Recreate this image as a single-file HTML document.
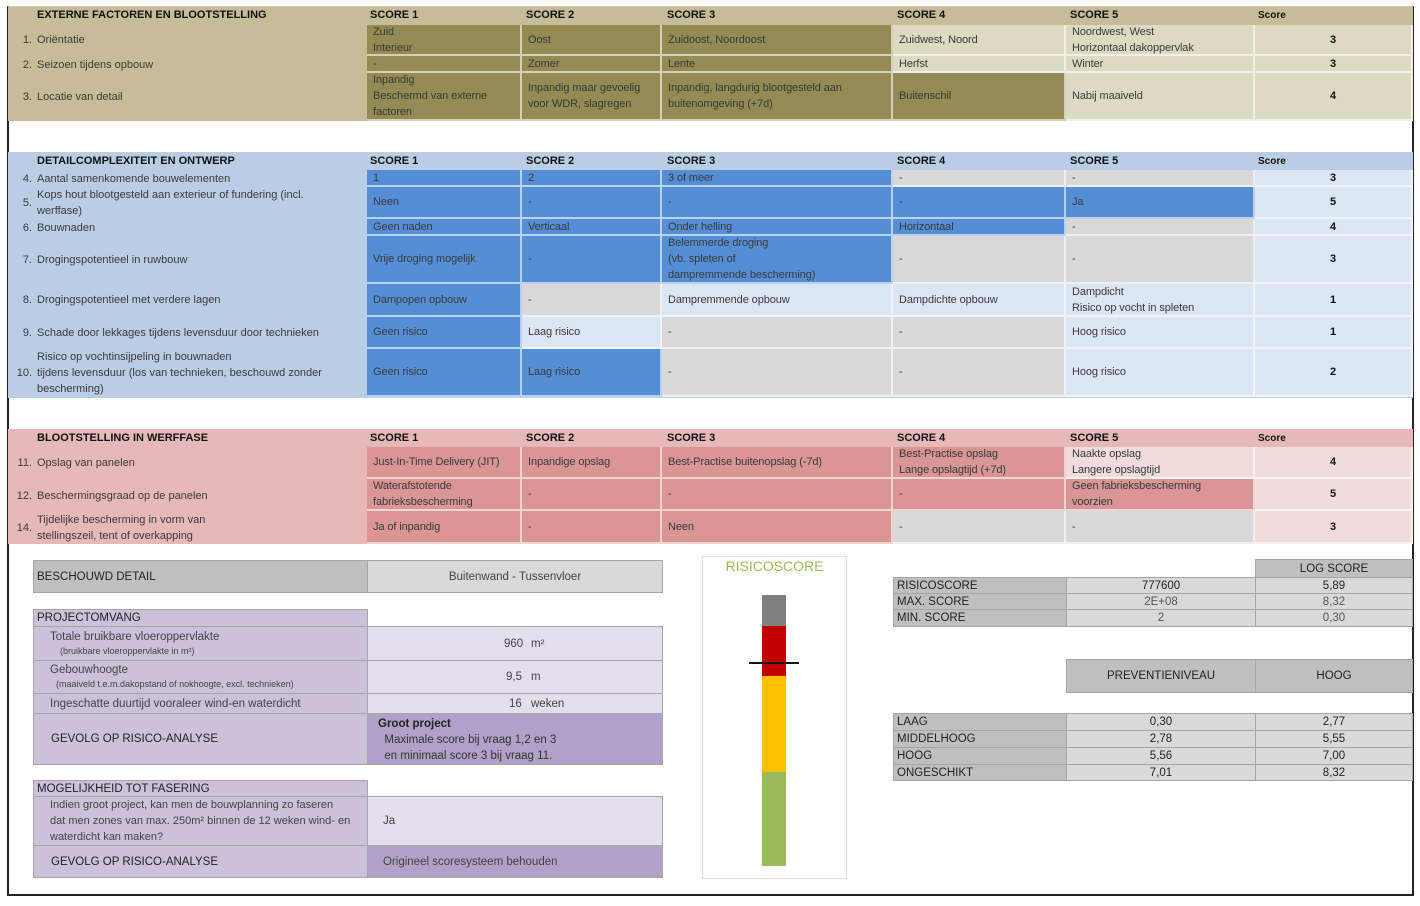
<!DOCTYPE html>
<html><head><meta charset="utf-8">
<style>
*{box-sizing:border-box;margin:0;padding:0}
body{width:1420px;height:906px;background:#fff;position:relative;overflow:hidden;font-family:"Liberation Sans",sans-serif;color:#3a3a3a;font-size:11px}
.frame{position:absolute;left:7px;top:6px;width:1407px;height:890px;border:2px solid #222;border-top:1px solid #ccc}
.b{position:absolute}
.c{position:absolute;display:flex;align-items:center;padding-left:6px;line-height:16px;border-right:2px solid rgba(255,255,255,.6);border-bottom:2px solid rgba(255,255,255,.6);font-size:11px;letter-spacing:-.1px}
.h{position:absolute;font-weight:bold;font-size:11px;color:#111}
.s{justify-content:center;padding-left:0;font-weight:bold;color:#111}
.lab{position:absolute;font-size:11px;line-height:16px;color:#3a3a3a}
.n{position:absolute;left:8px;width:24px;text-align:right}
.t{position:absolute;left:37px}
.od{background:#948a54}.ol{background:#ddd9c3}
.bd{background:#558ed5}.bg{background:#d9d9d9}.bl{background:#dce6f2}
.pd{background:#d99694}.pl{background:#f2dcdb}
.g1{background:#bfbfbf}.g2{background:#d9d9d9}
.q{position:absolute;display:flex;align-items:center;border:1px solid #a6a6a6;font-size:11.5px;color:#222}
.pu{background:#ccc0da}.pm{background:#e4dfec}.pk{background:#b1a0c7}
</style></head><body>
<div class="frame"></div>

<!-- Section 1 -->
<div class="b" style="left:8px;top:7px;width:1405px;height:114px;background:#c4bd97"></div>
<div class="h" style="left:37px;top:9px">EXTERNE FACTOREN EN BLOOTSTELLING</div>
<div class="h" style="left:370px;top:9px">SCORE 1</div><div class="h" style="left:526px;top:9px">SCORE 2</div><div class="h" style="left:667px;top:9px">SCORE 3</div><div class="h" style="left:897px;top:9px">SCORE 4</div><div class="h" style="left:1070px;top:9px">SCORE 5</div><div class="h" style="left:1258px;top:10px;font-size:10px">Score</div>
<div class="lab" style="top:32px;left:0;width:367px"><span class="n">1.</span><span class="t">Oriëntatie</span></div>
<div class="lab" style="top:57px;left:0;width:367px"><span class="n">2.</span><span class="t">Seizoen tijdens opbouw</span></div>
<div class="lab" style="top:89px;left:0;width:367px"><span class="n">3.</span><span class="t">Locatie van detail</span></div>

<div class="c od" style="left:367px;top:25px;width:155px;height:31px">Zuid<br>Interieur</div>
<div class="c od" style="left:522px;top:25px;width:140px;height:31px">Oost</div>
<div class="c od" style="left:662px;top:25px;width:231px;height:31px">Zuidoost, Noordoost</div>
<div class="c ol" style="left:893px;top:25px;width:173px;height:31px">Zuidwest, Noord</div>
<div class="c ol" style="left:1066px;top:25px;width:189px;height:31px">Noordwest, West<br>Horizontaal dakoppervlak</div>
<div class="c ol s" style="left:1255px;top:25px;width:158px;height:31px">3</div>

<div class="c od" style="left:367px;top:56px;width:155px;height:17px">-</div>
<div class="c od" style="left:522px;top:56px;width:140px;height:17px">Zomer</div>
<div class="c od" style="left:662px;top:56px;width:231px;height:17px">Lente</div>
<div class="c ol" style="left:893px;top:56px;width:173px;height:17px">Herfst</div>
<div class="c ol" style="left:1066px;top:56px;width:189px;height:17px">Winter</div>
<div class="c ol s" style="left:1255px;top:56px;width:158px;height:17px">3</div>

<div class="c od" style="left:367px;top:73px;width:155px;height:48px">Inpandig<br>Beschermd van externe<br>factoren</div>
<div class="c od" style="left:522px;top:73px;width:140px;height:48px">Inpandig maar gevoelig<br>voor WDR, slagregen</div>
<div class="c od" style="left:662px;top:73px;width:231px;height:48px">Inpandig, langdurig blootgesteld aan<br>buitenomgeving (+7d)</div>
<div class="c od" style="left:893px;top:73px;width:173px;height:48px">Buitenschil</div>
<div class="c ol" style="left:1066px;top:73px;width:189px;height:48px">Nabij maaiveld</div>
<div class="c ol s" style="left:1255px;top:73px;width:158px;height:48px">4</div>

<!-- Section 2 -->
<div class="b" style="left:8px;top:152px;width:1405px;height:246px;background:#b9cde5"></div>
<div class="h" style="left:37px;top:155px">DETAILCOMPLEXITEIT EN ONTWERP</div>
<div class="h" style="left:370px;top:155px">SCORE 1</div><div class="h" style="left:526px;top:155px">SCORE 2</div><div class="h" style="left:667px;top:155px">SCORE 3</div><div class="h" style="left:897px;top:155px">SCORE 4</div><div class="h" style="left:1070px;top:155px">SCORE 5</div><div class="h" style="left:1258px;top:156px;font-size:10px">Score</div>
<div class="lab" style="top:171px;left:0"><span class="n">4.</span><span class="t" style="white-space:nowrap">Aantal samenkomende bouwelementen</span></div>
<div class="lab" style="top:195px;left:0"><span class="n">5.</span></div><div class="lab" style="top:187px;left:37px;white-space:nowrap">Kops hout blootgesteld aan exterieur of fundering (incl.<br>werffase)</div>
<div class="lab" style="top:220px;left:0"><span class="n">6.</span><span class="t">Bouwnaden</span></div>
<div class="lab" style="top:252px;left:0"><span class="n">7.</span><span class="t" style="white-space:nowrap">Drogingspotentieel in ruwbouw</span></div>
<div class="lab" style="top:292px;left:0"><span class="n">8.</span><span class="t" style="white-space:nowrap">Drogingspotentieel met verdere lagen</span></div>
<div class="lab" style="top:325px;left:0"><span class="n">9.</span><span class="t" style="white-space:nowrap">Schade door lekkages tijdens levensduur door technieken</span></div>
<div class="lab" style="top:365px;left:0"><span class="n">10.</span></div><div class="lab" style="top:349px;left:37px;white-space:nowrap">Risico op vochtinsijpeling in bouwnaden<br>tijdens levensduur (los van technieken, beschouwd zonder<br>bescherming)</div>

<div class="c bd" style="left:367px;top:170px;width:155px;height:17px">1</div>
<div class="c bd" style="left:522px;top:170px;width:140px;height:17px">2</div>
<div class="c bd" style="left:662px;top:170px;width:231px;height:17px">3 of meer</div>
<div class="c bg" style="left:893px;top:170px;width:173px;height:17px">-</div>
<div class="c bg" style="left:1066px;top:170px;width:189px;height:17px">-</div>
<div class="c bl s" style="left:1255px;top:170px;width:158px;height:17px">3</div>

<div class="c bd" style="left:367px;top:187px;width:155px;height:32px">Neen</div>
<div class="c bd" style="left:522px;top:187px;width:140px;height:32px">-</div>
<div class="c bd" style="left:662px;top:187px;width:231px;height:32px">-</div>
<div class="c bd" style="left:893px;top:187px;width:173px;height:32px">-</div>
<div class="c bd" style="left:1066px;top:187px;width:189px;height:32px">Ja</div>
<div class="c bl s" style="left:1255px;top:187px;width:158px;height:32px">5</div>

<div class="c bd" style="left:367px;top:219px;width:155px;height:17px">Geen naden</div>
<div class="c bd" style="left:522px;top:219px;width:140px;height:17px">Verticaal</div>
<div class="c bd" style="left:662px;top:219px;width:231px;height:17px">Onder helling</div>
<div class="c bd" style="left:893px;top:219px;width:173px;height:17px">Horizontaal</div>
<div class="c bg" style="left:1066px;top:219px;width:189px;height:17px">-</div>
<div class="c bl s" style="left:1255px;top:219px;width:158px;height:17px">4</div>

<div class="c bd" style="left:367px;top:236px;width:155px;height:48px">Vrije droging mogelijk</div>
<div class="c bd" style="left:522px;top:236px;width:140px;height:48px">-</div>
<div class="c bd" style="left:662px;top:236px;width:231px;height:48px">Belemmerde droging<br>(vb. spleten of<br>dampremmende bescherming)</div>
<div class="c bg" style="left:893px;top:236px;width:173px;height:48px">-</div>
<div class="c bg" style="left:1066px;top:236px;width:189px;height:48px">-</div>
<div class="c bl s" style="left:1255px;top:236px;width:158px;height:48px">3</div>

<div class="c bd" style="left:367px;top:284px;width:155px;height:33px">Dampopen opbouw</div>
<div class="c bg" style="left:522px;top:284px;width:140px;height:33px">-</div>
<div class="c bl" style="left:662px;top:284px;width:231px;height:33px">Dampremmende opbouw</div>
<div class="c bl" style="left:893px;top:284px;width:173px;height:33px">Dampdichte opbouw</div>
<div class="c bl" style="left:1066px;top:284px;width:189px;height:33px">Dampdicht<br>Risico op vocht in spleten</div>
<div class="c bl s" style="left:1255px;top:284px;width:158px;height:33px">1</div>

<div class="c bd" style="left:367px;top:317px;width:155px;height:32px">Geen risico</div>
<div class="c bl" style="left:522px;top:317px;width:140px;height:32px">Laag risico</div>
<div class="c bg" style="left:662px;top:317px;width:231px;height:32px">-</div>
<div class="c bg" style="left:893px;top:317px;width:173px;height:32px">-</div>
<div class="c bl" style="left:1066px;top:317px;width:189px;height:32px">Hoog risico</div>
<div class="c bl s" style="left:1255px;top:317px;width:158px;height:32px">1</div>

<div class="c bd" style="left:367px;top:349px;width:155px;height:48px">Geen risico</div>
<div class="c bd" style="left:522px;top:349px;width:140px;height:48px">Laag risico</div>
<div class="c bg" style="left:662px;top:349px;width:231px;height:48px">-</div>
<div class="c bg" style="left:893px;top:349px;width:173px;height:48px">-</div>
<div class="c bl" style="left:1066px;top:349px;width:189px;height:48px">Hoog risico</div>
<div class="c bl s" style="left:1255px;top:349px;width:158px;height:48px">2</div>

<!-- Section 3 -->
<div class="b" style="left:8px;top:429px;width:1405px;height:115px;background:#e6b9b8"></div>
<div class="h" style="left:37px;top:432px">BLOOTSTELLING IN WERFFASE</div>
<div class="h" style="left:370px;top:432px">SCORE 1</div><div class="h" style="left:526px;top:432px">SCORE 2</div><div class="h" style="left:667px;top:432px">SCORE 3</div><div class="h" style="left:897px;top:432px">SCORE 4</div><div class="h" style="left:1070px;top:432px">SCORE 5</div><div class="h" style="left:1258px;top:433px;font-size:10px">Score</div>
<div class="lab" style="top:455px;left:0"><span class="n">11.</span><span class="t" style="white-space:nowrap">Opslag van panelen</span></div>
<div class="lab" style="top:488px;left:0"><span class="n">12.</span><span class="t" style="white-space:nowrap">Beschermingsgraad op de panelen</span></div>
<div class="lab" style="top:520px;left:0"><span class="n">14.</span></div><div class="lab" style="top:512px;left:37px;white-space:nowrap">Tijdelijke bescherming in vorm van<br>stellingszeil, tent of overkapping</div>

<div class="c pd" style="left:367px;top:447px;width:155px;height:32px">Just-In-Time Delivery (JIT)</div>
<div class="c pd" style="left:522px;top:447px;width:140px;height:32px">Inpandige opslag</div>
<div class="c pd" style="left:662px;top:447px;width:231px;height:32px">Best-Practise buitenopslag (-7d)</div>
<div class="c pd" style="left:893px;top:447px;width:173px;height:32px">Best-Practise opslag<br>Lange opslagtijd (+7d)</div>
<div class="c pl" style="left:1066px;top:447px;width:189px;height:32px">Naakte opslag<br>Langere opslagtijd</div>
<div class="c pl s" style="left:1255px;top:447px;width:158px;height:32px">4</div>

<div class="c pd" style="left:367px;top:479px;width:155px;height:32px">Waterafstotende<br>fabrieksbescherming</div>
<div class="c pd" style="left:522px;top:479px;width:140px;height:32px">-</div>
<div class="c pd" style="left:662px;top:479px;width:231px;height:32px">-</div>
<div class="c pd" style="left:893px;top:479px;width:173px;height:32px">-</div>
<div class="c pd" style="left:1066px;top:479px;width:189px;height:32px">Geen fabrieksbescherming<br>voorzien</div>
<div class="c pl s" style="left:1255px;top:479px;width:158px;height:32px">5</div>

<div class="c pd" style="left:367px;top:511px;width:155px;height:33px">Ja of inpandig</div>
<div class="c pd" style="left:522px;top:511px;width:140px;height:33px">-</div>
<div class="c pd" style="left:662px;top:511px;width:231px;height:33px">Neen</div>
<div class="c bg" style="left:893px;top:511px;width:173px;height:33px">-</div>
<div class="c bg" style="left:1066px;top:511px;width:189px;height:33px">-</div>
<div class="c pl s" style="left:1255px;top:511px;width:158px;height:33px">3</div>

<!-- Bottom left -->
<div class="q g1" style="left:33px;top:560px;width:335px;height:33px;padding-left:3px">BESCHOUWD DETAIL</div>
<div class="q g2" style="left:367px;top:560px;width:296px;height:33px;justify-content:center;color:#444">Buitenwand - Tussenvloer</div>

<div class="q pu" style="left:33px;top:609px;width:335px;height:18px;padding-left:3px">PROJECTOMVANG</div>
<div class="q pu" style="left:33px;top:626px;width:335px;height:35px;padding-left:16px;display:block;line-height:14px;padding-top:3px;color:#444">Totale bruikbare vloeroppervlakte<br><span style="font-size:9px;padding-left:10px">(bruikbare vloeroppervlakte in m²)</span></div>
<div class="q pm" style="left:367px;top:626px;width:296px;height:35px;color:#444"><span style="position:absolute;left:136px">960</span><span style="position:absolute;left:163px">m²</span></div>
<div class="q pu" style="left:33px;top:660px;width:335px;height:34px;padding-left:16px;display:block;line-height:14px;padding-top:2px;color:#444">Gebouwhoogte<br><span style="font-size:9px;padding-left:6px">(maaiveld t.e.m.dakopstand of nokhoogte, excl. technieken)</span></div>
<div class="q pm" style="left:367px;top:660px;width:296px;height:34px;color:#444"><span style="position:absolute;left:138px">9,5</span><span style="position:absolute;left:163px">m</span></div>
<div class="q pu" style="left:33px;top:693px;width:335px;height:21px;padding-left:16px;color:#444">Ingeschatte duurtijd vooraleer wind-en waterdicht</div>
<div class="q pm" style="left:367px;top:693px;width:296px;height:21px;color:#444"><span style="position:absolute;left:141px">16</span><span style="position:absolute;left:163px">weken</span></div>
<div class="q pu" style="left:33px;top:713px;width:335px;height:52px;padding-left:17px">GEVOLG OP RISICO-ANALYSE</div>
<div class="q pk" style="left:367px;top:713px;width:296px;height:52px;display:block;line-height:16px;padding:2px 0 0 10px;color:#333"><b style="color:#222">Groot project</b><br>&nbsp;&nbsp;Maximale score bij vraag 1,2 en 3<br>&nbsp;&nbsp;en minimaal score 3 bij vraag 11.</div>

<div class="q pu" style="left:33px;top:780px;width:335px;height:17px;padding-left:3px">MOGELIJKHEID TOT FASERING</div>
<div class="q pu" style="left:33px;top:796px;width:335px;height:50px;padding-left:16px;line-height:16px;color:#444;font-size:11px">Indien groot project, kan men de bouwplanning zo faseren<br>dat men zones van max. 250m² binnen de 12 weken wind- en<br>waterdicht kan maken?</div>
<div class="q pm" style="left:367px;top:796px;width:296px;height:50px;padding-left:15px;color:#444">Ja</div>
<div class="q pu" style="left:33px;top:845px;width:335px;height:33px;padding-left:17px">GEVOLG OP RISICO-ANALYSE</div>
<div class="q pk" style="left:367px;top:845px;width:296px;height:33px;padding-left:15px;color:#444">Origineel scoresysteem behouden</div>

<!-- Risicoscore gauge -->
<div class="b" style="left:702px;top:556px;width:145px;height:323px;border:1px solid #e0e0e0"></div>
<div class="b" style="left:702px;top:558px;width:145px;text-align:center;color:#9bbb59;font-size:14px">RISICOSCORE</div>
<div class="b" style="left:762px;top:595px;width:24px;height:31px;background:#7f7f7f"></div>
<div class="b" style="left:762px;top:626px;width:24px;height:50px;background:#c00000"></div>
<div class="b" style="left:762px;top:676px;width:24px;height:96px;background:#ffc000"></div>
<div class="b" style="left:762px;top:772px;width:24px;height:94px;background:#9bbb59"></div>
<div class="b" style="left:749px;top:662px;width:50px;height:2px;background:#111"></div>

<!-- Right tables -->
<div class="q g1" style="left:1255px;top:559px;width:158px;height:19px;justify-content:center">LOG SCORE</div>
<div class="q g1" style="left:893px;top:577px;width:174px;height:17px;padding-left:3px">RISICOSCORE</div>
<div class="q g2" style="left:1066px;top:577px;width:190px;height:17px;justify-content:center">777600</div>
<div class="q g2" style="left:1255px;top:577px;width:158px;height:17px;justify-content:center">5,89</div>
<div class="q g1" style="left:893px;top:593px;width:174px;height:17px;padding-left:3px">MAX. SCORE</div>
<div class="q g2" style="left:1066px;top:593px;width:190px;height:17px;justify-content:center;color:#555">2E+08</div>
<div class="q g2" style="left:1255px;top:593px;width:158px;height:17px;justify-content:center;color:#555">8,32</div>
<div class="q g1" style="left:893px;top:609px;width:174px;height:18px;padding-left:3px">MIN. SCORE</div>
<div class="q g2" style="left:1066px;top:609px;width:190px;height:18px;justify-content:center;color:#555">2</div>
<div class="q g2" style="left:1255px;top:609px;width:158px;height:18px;justify-content:center;color:#555">0,30</div>

<div class="q g1" style="left:1066px;top:659px;width:190px;height:34px;justify-content:center">PREVENTIENIVEAU</div>
<div class="q g1" style="left:1255px;top:659px;width:158px;height:34px;justify-content:center">HOOG</div>

<div class="q g1" style="left:893px;top:713px;width:174px;height:18px;padding-left:3px">LAAG</div>
<div class="q g2" style="left:1066px;top:713px;width:190px;height:18px;justify-content:center">0,30</div>
<div class="q g2" style="left:1255px;top:713px;width:158px;height:18px;justify-content:center">2,77</div>
<div class="q g1" style="left:893px;top:730px;width:174px;height:18px;padding-left:3px">MIDDELHOOG</div>
<div class="q g2" style="left:1066px;top:730px;width:190px;height:18px;justify-content:center">2,78</div>
<div class="q g2" style="left:1255px;top:730px;width:158px;height:18px;justify-content:center">5,55</div>
<div class="q g1" style="left:893px;top:747px;width:174px;height:18px;padding-left:3px">HOOG</div>
<div class="q g2" style="left:1066px;top:747px;width:190px;height:18px;justify-content:center">5,56</div>
<div class="q g2" style="left:1255px;top:747px;width:158px;height:18px;justify-content:center">7,00</div>
<div class="q g1" style="left:893px;top:764px;width:174px;height:17px;padding-left:3px">ONGESCHIKT</div>
<div class="q g2" style="left:1066px;top:764px;width:190px;height:17px;justify-content:center">7,01</div>
<div class="q g2" style="left:1255px;top:764px;width:158px;height:17px;justify-content:center">8,32</div>
</body></html>
